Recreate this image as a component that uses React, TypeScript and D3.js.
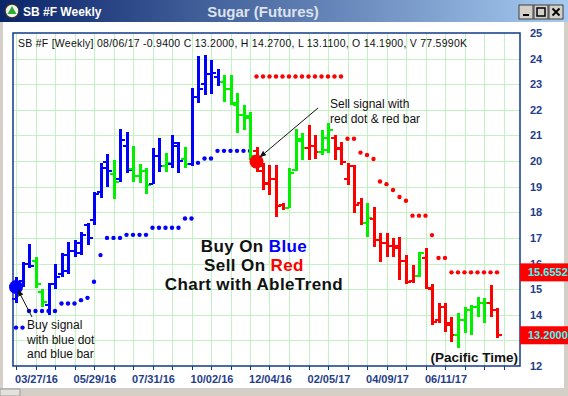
import React, { useEffect, useRef } from 'react';
import * as d3 from 'd3';

// weekly bars, first bar week of 03/06/16, last 08/06/17
const firstWeek = '03/06/16';
const opens = [14.6, 15.3, 16.0, 16.1, 14.9, 14.4, 15.2, 15.6, 15.7, 16.5, 16.4, 17.5, 17.7, 18.8, 19.95, 19.5, 19.3, 20.6, 19.7, 19.4, 19.6, 19.1, 20.2, 19.8, 19.9, 20.6, 20.1, 19.9, 22.5, 23.0, 23.4, 23.3, 23.1, 22.8, 22.2, 21.8, 21.7, 20.4, 19.6, 19.1, 19.3, 18.3, 18.16, 19.65, 20.8, 20.5, 20.6, 20.35, 20.45, 20.9, 20.5, 19.3, 19.8, 18.35, 17.6, 17.74, 16.9, 16.8, 16.7, 16.6, 16.1, 15.3, 15.5, 16.2, 15.0, 13.8, 14.3, 13.6, 13.2, 13.8, 14.2, 14.3, 14.44, 14.44, 14.19];
const highs = [15.48, 16.07, 16.76, 16.26, 14.99, 15.25, 15.98, 16.4, 16.85, 16.92, 17.24, 17.59, 18.8, 19.94, 20.27, 20.04, 21.26, 21.13, 20.6, 19.88, 19.72, 20.5, 20.92, 20.3, 21.0, 20.76, 20.56, 22.87, 24.1, 24.15, 23.95, 23.6, 23.37, 23.37, 22.65, 22.2, 21.9, 20.54, 19.92, 19.85, 19.85, 18.35, 19.72, 21.25, 21.1, 21.4, 21.0, 21.2, 21.5, 21.02, 20.76, 19.92, 19.85, 18.55, 18.35, 18.22, 17.18, 17.18, 16.98, 17.04, 16.33, 15.94, 16.46, 16.59, 15.22, 14.44, 14.46, 13.92, 14.05, 14.31, 14.37, 14.7, 14.64, 15.16, 14.27];
const lows = [14.44, 15.09, 15.81, 15.03, 14.31, 13.98, 14.99, 15.48, 15.61, 16.26, 16.33, 16.72, 17.5, 18.55, 19.0, 18.52, 19.17, 19.52, 19.17, 19.13, 18.7, 19.09, 19.56, 19.56, 19.72, 19.52, 19.74, 19.82, 22.26, 22.59, 22.62, 22.92, 22.32, 22.2, 21.09, 21.2, 20.05, 19.59, 18.87, 18.68, 17.83, 18.1, 18.16, 19.6, 20.05, 20.05, 20.1, 20.25, 20.3, 20.04, 19.85, 19.07, 17.96, 17.5, 17.02, 16.63, 16.07, 16.26, 16.26, 15.35, 15.22, 15.25, 15.48, 14.99, 13.59, 13.66, 13.33, 12.94, 12.72, 13.27, 13.2, 13.92, 13.68, 13.92, 13.11];
const closes = [15.2, 16.0, 15.9, 15.2, 14.5, 15.2, 15.48, 16.33, 16.5, 16.8, 17.1, 17.0, 18.7, 19.72, 19.6, 19.2, 20.83, 19.65, 19.4, 19.62, 19.06, 20.18, 19.8, 19.92, 20.7, 20.0, 19.9, 22.52, 22.8, 23.41, 23.45, 23.08, 22.82, 22.25, 21.8, 21.75, 20.2, 19.8, 19.16, 19.3, 18.25, 18.15, 19.55, 20.85, 20.5, 20.6, 20.35, 20.9, 21.2, 20.46, 19.98, 19.81, 18.28, 17.6, 17.76, 16.9, 16.79, 16.7, 16.68, 16.1, 15.28, 15.5, 16.42, 15.03, 13.72, 14.31, 13.66, 13.2, 13.81, 14.2, 14.31, 14.44, 14.44, 14.2, 13.2];
// b = blue (buy), g = green (neutral), r = red (sell)
const barTrend = 'bbbggbbbbbbbbbbgbbgggbbgbbgbbbbbgggggrrrrrgggrrggrrrrrgrrrrrrrgrrrrrgggggrr'.split('');
const stopDots = [13.5, 13.5, 14.15, 14.15, 14.15, 14.15, 14.15, 14.44, 14.44, 14.44, 14.57, 14.66, 15.29, 16.33, 17.0, 17.0, 17.0, 17.12, 17.12, 17.12, 17.12, 17.4, 17.4, 17.4, 17.4, 17.4, 17.76, 17.76, 19.93, 20.1, 20.1, 20.4, 20.4, 20.4, 20.4, 20.4, 20.4, 23.3, 23.3, 23.3, 23.3, 23.3, 23.3, 23.3, 23.3, 23.3, 23.3, 23.3, 23.3, 23.3, 23.3, 20.87, 20.87, 20.33, 20.24, 20.08, 19.2, 19.1, 18.87, 18.6, 18.45, 17.87, 17.87, 17.87, 17.11, 16.22, 16.22, 15.6552, 15.6552, 15.6552, 15.6552, 15.6552, 15.6552, 15.6552, 15.6552];
const stopSide = 'bbbbbbbbbbbbbbbbbbbbbbbbbbbbbbbbbbbbbrrrrrrrrrrrrrrrrrrrrrrrrrrrrrrrrrrrrrr'.split('');
const signals = [{ week: 0, price: 15.08, side: 'b' }, { week: 37, price: 19.98, side: 'r' }];
const xTickLabels = ['03/27/16', '05/29/16', '07/31/16', '10/02/16', '12/04/16', '02/05/17', '04/09/17', '06/11/17'];
// 13 sits under the last-close box and is not visible in the original
const yTicks = [12, 14, 15, 16, 17, 18, 19, 20, 21, 22, 23, 24, 25];
const yGrid = [13, 14, 15, 16, 17, 18, 19, 20, 21, 22, 23, 24];
const lastStop = 15.6552;
const lastClose = 13.2;
const header = 'SB #F [Weekly] 08/06/17  -0.9400 C 13.2000, H 14.2700, L 13.1100, O 14.1900, V 77.5990K';

const colors: Record<string, string> = { b: '#0000ff', g: '#00f000', r: '#ff0000' };
const FONT = 'Arial, "Liberation Sans", sans-serif';

export default function App() {
  const svgRef = useRef<SVGSVGElement>(null);

  useEffect(() => {
    if (!svgRef.current) return;
    const width = 568;
    const height = 396;
    const svg = d3.select(svgRef.current).attr('width', width).attr('height', height);
    svg.selectAll('*').remove();

    const plot = { left: 13, right: 520, top: 33, bottom: 366 };
    const parse = d3.timeParse('%m/%d/%y');
    const start = parse(firstWeek) as Date;
    const dates = closes.map((_, i) => d3.timeWeek.offset(start, i));
    const x = d3.scaleTime().domain([dates[0], dates[dates.length - 1]]).range([16, 497]);
    const y = d3.scaleLinear().domain([12, 25]).range([plot.bottom, plot.top]);

    // window chrome
    svg.append('rect').attr('width', width).attr('height', height).attr('fill', '#d4d0c8');
    svg.append('rect').attr('x', 3).attr('y', 22).attr('width', 561).attr('height', 366).attr('fill', '#ffffff');
    const grad = svg.append('defs').append('linearGradient').attr('id', 'tbar');
    grad.append('stop').attr('offset', '0%').attr('stop-color', '#0a246a');
    grad.append('stop').attr('offset', '100%').attr('stop-color', '#a6caf0');
    svg.append('rect').attr('width', width).attr('height', 22).attr('fill', 'url(#tbar)');
    svg.append('circle').attr('cx', 12).attr('cy', 11).attr('r', 7).attr('fill', '#f2f2f2').attr('stroke', '#333').attr('stroke-width', 1.5);
    svg.append('path').attr('d', 'M12,6 L16.5,14 L7.5,14 Z').attr('fill', '#2fae2f');
    svg.append('text').attr('x', 23).attr('y', 16).attr('fill', '#ffffff').attr('font-family', FONT)
      .attr('font-weight', 'bold').attr('font-size', 12).text('SB #F Weekly');
    svg.append('text').attr('x', 263).attr('y', 17).attr('text-anchor', 'middle').attr('fill', '#dde3ee')
      .attr('font-family', FONT).attr('font-weight', 'bold').attr('font-size', 15).text('Sugar (Futures)');
    [519, 534, 549].forEach((bx, i) => {
      const b = svg.append('g');
      b.append('rect').attr('x', bx).attr('y', 5).attr('width', 14).attr('height', 14).attr('fill', '#d4d0c8')
        .attr('stroke', '#404040').attr('stroke-width', 1);
      if (i === 0) b.append('rect').attr('x', bx + 4).attr('y', 14).attr('width', 6).attr('height', 2).attr('fill', '#000');
      if (i === 1) b.append('rect').attr('x', bx + 3).attr('y', 8).attr('width', 8).attr('height', 8)
        .attr('fill', 'none').attr('stroke', '#000').attr('stroke-width', 1.5);
      if (i === 2) b.append('path').attr('d', `M${bx + 3.5},8.5 L${bx + 10.5},15.5 M${bx + 10.5},8.5 L${bx + 3.5},15.5`)
        .attr('stroke', '#000').attr('stroke-width', 1.8);
    });
    svg.append('rect').attr('x', 0).attr('y', 389).attr('width', 20).attr('height', 7).attr('fill', '#e4e2dc').attr('stroke', '#9a9a9a');

    // grid
    const gridDates = d3.range(0, dates.length + 2, 3).map(i => d3.timeWeek.offset(start, i));
    svg.append('g').selectAll('line').data(yGrid).enter().append('line')
      .attr('x1', plot.left).attr('x2', plot.right).attr('y1', d => Math.round(y(d)) + 0.5).attr('y2', d => Math.round(y(d)) + 0.5)
      .attr('stroke', '#c2f2c2').attr('stroke-width', 1);
    svg.append('g').selectAll('line').data(gridDates).enter().append('line')
      .attr('x1', d => Math.round(x(d)) + 0.5).attr('x2', d => Math.round(x(d)) + 0.5)
      .attr('y1', plot.top).attr('y2', plot.bottom)
      .attr('stroke', '#c2f2c2').attr('stroke-width', 1);

    svg.append('rect').attr('x', plot.left).attr('y', plot.top)
      .attr('width', plot.right - plot.left).attr('height', plot.bottom - plot.top)
      .attr('fill', 'none').attr('stroke', '#123a8a').attr('stroke-width', 1.5);

    // x axis
    svg.append('g').selectAll('line').data(gridDates).enter().append('line')
      .attr('x1', d => Math.round(x(d)) + 0.5).attr('x2', d => Math.round(x(d)) + 0.5)
      .attr('y1', plot.bottom).attr('y2', plot.bottom + 4)
      .attr('stroke', '#123a8a').attr('stroke-width', 1);
    svg.append('g').selectAll('text').data(xTickLabels).enter().append('text')
      .attr('x', d => x(parse(d) as Date) + 1).attr('y', 383).attr('text-anchor', 'middle')
      .attr('fill', '#1f3d8a').attr('font-family', FONT).attr('font-weight', 'bold').attr('font-size', 11)
      .text(d => d);

    // y axis
    svg.append('g').selectAll('text').data(yTicks).enter().append('text')
      .attr('x', 530).attr('y', d => y(d) + 4)
      .attr('fill', '#1f3d8a').attr('font-family', FONT).attr('font-weight', 'bold').attr('font-size', 11)
      .text(d => d);

    svg.append('text').attr('x', 18).attr('y', 47).attr('fill', '#111').attr('font-family', FONT)
      .attr('font-size', 10.5).attr('textLength', 449).attr('lengthAdjust', 'spacing').text(header);

    // stop dots
    svg.append('g').selectAll('circle').data(stopDots).enter().append('circle')
      .attr('cx', (_, i) => x(dates[i])).attr('cy', d => y(d)).attr('r', 2.2)
      .attr('fill', (_, i) => colors[stopSide[i]]);

    // OHLC bars
    const bars = svg.append('g').attr('shape-rendering', 'crispEdges');
    closes.forEach((c, i) => {
      const cx = Math.round(x(dates[i]));
      const col = colors[barTrend[i]];
      bars.append('rect').attr('x', cx - 1).attr('y', y(highs[i])).attr('width', 3)
        .attr('height', Math.max(2, y(lows[i]) - y(highs[i]))).attr('fill', col);
      bars.append('rect').attr('x', cx - 4).attr('y', y(opens[i]) - 1).attr('width', 3.5).attr('height', 2).attr('fill', col);
      bars.append('rect').attr('x', cx + 1.5).attr('y', y(c) - 1).attr('width', 3.5).attr('height', 2).attr('fill', col);
    });

    // signal dots
    svg.append('g').selectAll('circle').data(signals).enter().append('circle')
      .attr('cx', d => x(dates[d.week])).attr('cy', d => y(d.price)).attr('r', 7)
      .attr('fill', d => colors[d.side]);

    // annotations
    const defs = svg.select('defs');
    defs.append('marker').attr('id', 'arr').attr('viewBox', '0 0 10 10').attr('refX', 9).attr('refY', 5)
      .attr('markerWidth', 7).attr('markerHeight', 7).attr('orient', 'auto')
      .append('path').attr('d', 'M0,1 L10,5 L0,9 Z').attr('fill', '#111');
    svg.append('line').attr('x1', 318).attr('y1', 108).attr('x2', 260).attr('y2', 157)
      .attr('stroke', '#111').attr('stroke-width', 1).attr('marker-end', 'url(#arr)');
    svg.append('line').attr('x1', 32).attr('y1', 317).attr('x2', 18).attr('y2', 290)
      .attr('stroke', '#111').attr('stroke-width', 1).attr('marker-end', 'url(#arr)');

    const note = (lines: string[], nx: number, ny: number) => {
      lines.forEach((t, k) => {
        svg.append('text').attr('x', nx).attr('y', ny + k * 14.5).attr('fill', '#111')
          .attr('font-family', FONT).attr('font-size', 12).text(t);
      });
    };
    note(['Sell signal with', 'red dot & red bar'], 330, 108);
    note(['Buy signal', 'with blue dot', 'and blue bar'], 27, 329);

    const big = [
      [['Buy On ', '#111'], ['Blue', '#0000ff']],
      [['Sell On ', '#111'], ['Red', '#ff0000']],
      [['Chart with AbleTrend', '#111']],
    ];
    big.forEach((parts, k) => {
      const t = svg.append('text').attr('x', 254).attr('y', 252 + k * 19).attr('text-anchor', 'middle')
        .attr('font-family', FONT).attr('font-weight', 'bold').attr('font-size', 17).attr('letter-spacing', 0.4);
      parts.forEach(([s, c]) => t.append('tspan').attr('fill', c).text(s));
    });

    svg.append('text').attr('x', 518).attr('y', 362).attr('text-anchor', 'end').attr('fill', '#111')
      .attr('font-family', FONT).attr('font-weight', 'bold').attr('font-size', 13.5).text('(Pacific Time)');

    // value boxes
    [lastStop, lastClose].forEach(v => {
      svg.append('rect').attr('x', 520).attr('y', y(v) - 9).attr('width', 48).attr('height', 18).attr('fill', '#ff0000');
      svg.append('text').attr('x', 528).attr('y', y(v) + 4).attr('fill', '#33ffff')
        .attr('font-family', FONT).attr('font-weight', 'bold').attr('font-size', 11).text(v.toFixed(4));
    });
  }, []);

  return (
    <div style={{ position: 'fixed', left: 0, top: 0, width: 568, height: 396 }}>
      <svg ref={svgRef} style={{ display: 'block' }} />
    </div>
  );
}
